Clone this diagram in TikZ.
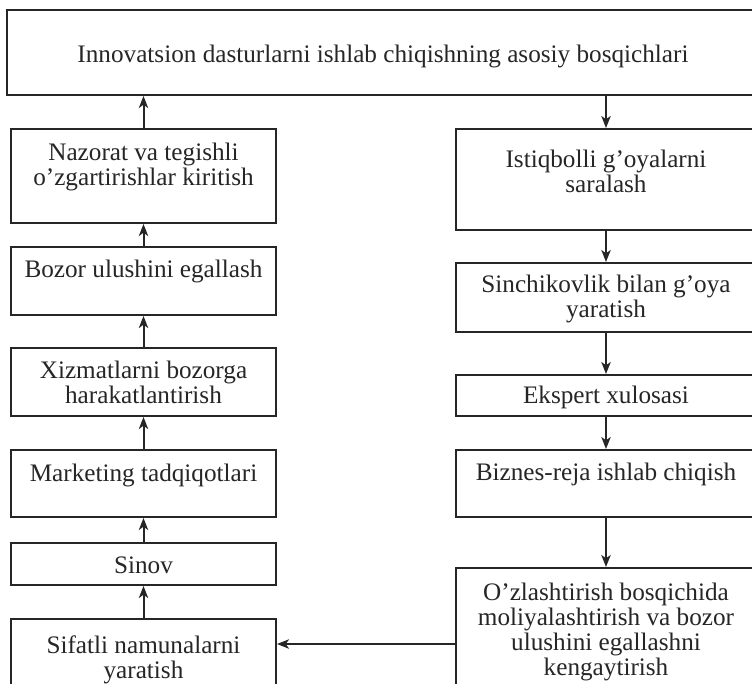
\documentclass[tikz,border=0pt]{standalone}
\usepackage{fontspec}
\setmainfont{Liberation Serif}
\usetikzlibrary{arrows.meta}
\begin{document}
\begin{tikzpicture}[x=0.75pt,y=-0.75pt,
  box/.style={draw=black!85,line width=1.5pt,rectangle,inner sep=0pt},
  txt/.style={align=center,inner sep=0pt,font=\fontsize{18.9pt}{18.6pt}\selectfont,text=black!85},
  arr/.style={draw=black!85,line width=1.5pt,-{Stealth[length=9pt,width=7pt,inset=2.5pt]}}]
\useasboundingbox (0,0) rectangle (752,683);
\clip (0,0) rectangle (752,683);
\fill[white] (0,0) rectangle (752,683);
% top box
\node[box,minimum width=753*0.75pt,minimum height=85*0.75pt] (T) at (383.5,52.5) {};
\node[txt] (Tt) at (383,56) {Innovatsion dasturlarni ishlab chiqishning asosiy bosqichlari};
% left column (x 11..276)
\node[box,minimum width=265*0.75pt,minimum height=94*0.75pt] (L1) at (143.5,176) {};
\node[txt] (L1t) at (143.5,167) {Nazorat va tegishli\\o’zgartirishlar kiritish};
\node[box,minimum width=265*0.75pt,minimum height=68*0.75pt] (L2) at (143.5,281) {};
\node[txt] (L2t) at (143.5,271) {Bozor ulushini egallash};
\node[box,minimum width=265*0.75pt,minimum height=68*0.75pt] (L3) at (143.5,382) {};
\node[txt] (L3t) at (143.5,382) {Xizmatlarni bozorga\\harakatlantirish};
\node[box,minimum width=265*0.75pt,minimum height=67*0.75pt] (L4) at (143.5,483.5) {};
\node[txt] (L4t) at (143.5,475) {Marketing tadqiqotlari};
\node[box,minimum width=265*0.75pt,minimum height=42*0.75pt] (L5) at (143.5,564) {};
\node[txt] (L5t) at (143.5,565) {Sinov};
\node[box,minimum width=265*0.75pt,minimum height=81*0.75pt] (L6) at (143.5,659.5) {};
\node[txt] (L6t) at (143.5,660) {Sifatli namunalarni\\yaratish};
% right column (x 456..756)
\node[box,minimum width=300*0.75pt,minimum height=101*0.75pt] (R1) at (606,179.5) {};
\node[txt] (R1t) at (606,171) {Istiqbolli g’oyalarni\\saralash};
\node[box,minimum width=300*0.75pt,minimum height=69*0.75pt] (R2) at (606,297.5) {};
\node[txt] (R2t) at (606,299) {Sinchikovlik bilan g’oya\\yaratish};
\node[box,minimum width=300*0.75pt,minimum height=41*0.75pt] (R3) at (606,395.5) {};
\node[txt] (R3t) at (606,397) {Ekspert xulosasi};
\node[box,minimum width=300*0.75pt,minimum height=67*0.75pt] (R4) at (606,483.5) {};
\node[txt] (R4t) at (606,474) {Biznes-reja ishlab chiqish};
\node[box,minimum width=300*0.75pt,minimum height=132*0.75pt] (R5) at (606,634) {};
\node[txt] (R5t) at (606,632) {O’zlashtirish bosqichida\\moliyalashtirish va bozor\\ulushini egallashni\\kengaytirish};
% connectors
\draw[arr] (L1.north) -- (L1.north |- T.south);
\draw[arr] (L2.north) -- (L1.south);
\draw[arr] (L3.north) -- (L2.south);
\draw[arr] (L4.north) -- (L3.south);
\draw[arr] (L5.north) -- (L4.south);
\draw[arr] (L6.north) -- (L5.south);
\draw[arr] (R1.north |- T.south) -- (R1.north);
\draw[arr] (R1.south) -- (R2.north);
\draw[arr] (R2.south) -- (R3.north);
\draw[arr] (R3.south) -- (R4.north);
\draw[arr] (R4.south) -- (R5.north);
\coordinate (h) at (366,644);
\draw[arr] (R5.west |- h) -- (L6.east |- h);
\end{tikzpicture}
\end{document}
